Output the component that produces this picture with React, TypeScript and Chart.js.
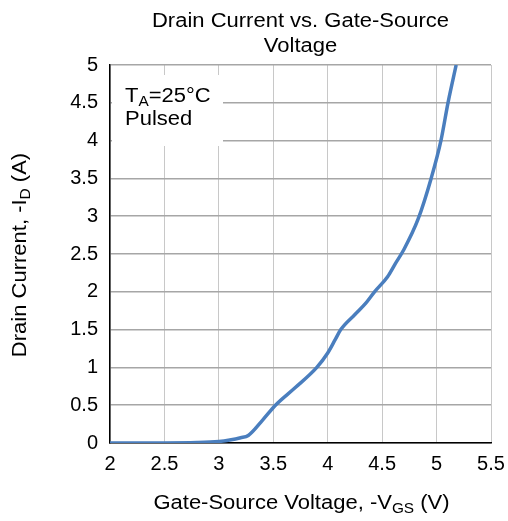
import React, { useEffect, useRef } from "react";
import { Chart, registerables } from "chart.js";

Chart.register(...registerables);

const vgs = [2.0, 2.5, 2.8, 3.0, 3.1, 3.2, 3.27, 3.4, 3.52, 3.7, 3.9, 4.0, 4.07, 4.12, 4.25, 4.35, 4.43, 4.55, 4.62, 4.7, 4.83, 4.95, 5.04, 5.105, 5.18];
const idA = [0.0, 0.0, 0.005, 0.02, 0.04, 0.07, 0.1, 0.3, 0.5, 0.73, 1.0, 1.19, 1.37, 1.5, 1.7, 1.85, 2.0, 2.2, 2.37, 2.56, 2.96, 3.5, 4.0, 4.5, 5.0];
const titleLines = ["Drain Current vs. Gate-Source", "Voltage"];
const xTitle = [{ t: "Gate-Source Voltage, -V" }, { t: "GS", sub: true }, { t: " (V)" }];
const yTitle = [{ t: "Drain Current, -I" }, { t: "D", sub: true }, { t: " (A)" }];
const noteLine1 = [{ t: "T" }, { t: "A", sub: true }, { t: "=25°C" }];
const noteLine2 = [{ t: "Pulsed" }];

const FONT = "'Liberation Sans', Arial, sans-serif";
const SX = 1.1;
const MAIN = 20;
const SUB = 14;

type Part = { t: string; sub?: boolean };

function richWidth(ctx: CanvasRenderingContext2D, parts: Part[]) {
  let w = 0;
  for (const p of parts) {
    ctx.font = `${p.sub ? SUB : MAIN}px ${FONT}`;
    w += ctx.measureText(p.t).width;
  }
  return w * SX;
}

function drawRich(ctx: CanvasRenderingContext2D, parts: Part[], x: number, y: number, align: "left" | "center") {
  const w = richWidth(ctx, parts);
  let cx = align === "center" ? x - w / 2 : x;
  ctx.textAlign = "left";
  ctx.textBaseline = "alphabetic";
  for (const p of parts) {
    ctx.font = `${p.sub ? SUB : MAIN}px ${FONT}`;
    const pw = ctx.measureText(p.t).width;
    ctx.save();
    ctx.translate(cx, y + (p.sub ? 4 : 0));
    ctx.scale(SX, 1);
    ctx.fillText(p.t, 0, 0);
    ctx.restore();
    cx += pw * SX;
  }
}

const textPlugin = {
  id: "textPlugin",
  beforeDatasetsDraw(chart: any) {
    const ctx = chart.ctx as CanvasRenderingContext2D;
    const ca = chart.chartArea;
    ctx.save();
    ctx.fillStyle = "#ffffff";
    ctx.fillRect(ca.left + 2, 75, 111, 71);
    ctx.restore();
  },
  afterDraw(chart: any) {
    const ctx = chart.ctx as CanvasRenderingContext2D;
    const ca = chart.chartArea;
    const cxm = (ca.left + ca.right) / 2;
    ctx.save();
    ctx.fillStyle = "#000000";
    drawRich(ctx, [{ t: titleLines[0] }], cxm, 27, "center");
    drawRich(ctx, [{ t: titleLines[1] }], cxm, 52, "center");
    drawRich(ctx, xTitle, cxm + 1, 509, "center");
    drawRich(ctx, noteLine1, 125, 102, "left");
    drawRich(ctx, noteLine2, 125, 125, "left");
    ctx.save();
    ctx.translate(26, 255);
    ctx.rotate(-Math.PI / 2);
    drawRich(ctx, yTitle, 0, 0, "center");
    ctx.restore();
    ctx.restore();
  },
};

const fmt = (v: any) => String(Math.round(Number(v) * 10) / 10);

export default function App() {
  const ref = useRef<HTMLCanvasElement | null>(null);
  useEffect(() => {
    if (!ref.current) return;
    const chart = new Chart(ref.current, {
      type: "line",
      data: {
        datasets: [
          {
            data: vgs.map((v, i) => ({ x: v, y: idA[i] })),
            borderColor: "rgb(74,126,190)",
            borderWidth: 3.5,
            pointRadius: 0,
            cubicInterpolationMode: "monotone",
            fill: false,
          },
        ],
      },
      options: {
        animation: false,
        responsive: true,
        maintainAspectRatio: false,
        layout: { padding: { left: 0, right: 17, top: 65, bottom: 0 } },
        plugins: { legend: { display: false }, title: { display: false }, tooltip: { enabled: false } },
        scales: {
          x: {
            type: "linear",
            min: 2,
            max: 5.5,
            afterFit: (s: any) => { s.height = 78; s.paddingRight = 0; s.paddingLeft = 0; },
            ticks: { stepSize: 0.5, color: "#000", font: { family: FONT, size: 20 }, padding: 9, maxRotation: 0, callback: fmt },
            grid: { color: "#c8c8c8", lineWidth: 1, drawTicks: false },
            border: { color: "#000", width: 1.5 },
          },
          y: {
            min: 0,
            max: 5,
            afterFit: (s: any) => { s.width = 110; s.paddingTop = 0; s.paddingBottom = 0; },
            ticks: { stepSize: 0.5, color: "#000", font: { family: FONT, size: 20 }, padding: 12, callback: fmt },
            grid: { color: "#a6a6a6", lineWidth: 1.6, drawTicks: false },
            border: { color: "#000", width: 1.5 },
          },
        },
      },
      plugins: [textPlugin],
    } as any);
    return () => chart.destroy();
  }, []);
  return (
    <div style={{ position: "fixed", left: 0, top: 0, width: 508, height: 521, background: "#fff" }}>
      <canvas ref={ref} />
    </div>
  );
}
